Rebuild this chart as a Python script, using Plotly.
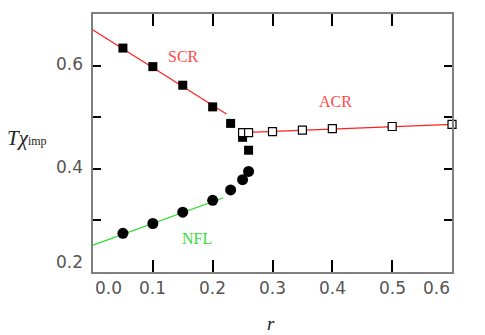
import plotly.graph_objects as go

# --- data ---
scr_r = [0.05, 0.10, 0.15, 0.20, 0.23, 0.25, 0.26]
scr_t = [0.634, 0.598, 0.562, 0.520, 0.488, 0.461, 0.436]

nfl_r = [0.05, 0.10, 0.15, 0.20, 0.23, 0.25, 0.26]
nfl_t = [0.275, 0.294, 0.316, 0.339, 0.359, 0.379, 0.395]

acr_r = [0.25, 0.26, 0.30, 0.35, 0.40, 0.50, 0.60]
acr_t = [0.470, 0.470, 0.472, 0.475, 0.478, 0.482, 0.486]

scr_fit_r = [0.0, 0.223]
scr_fit_t = [0.669, 0.506]
nfl_fit_r = [0.0, 0.218]
nfl_fit_t = [0.252, 0.344]
acr_fit_r = [0.26, 0.60]
acr_fit_t = [0.4705, 0.486]

x_ticks = [0.0, 0.1, 0.2, 0.3, 0.4, 0.5, 0.6]
x_tick_labels = ["0.0", "0.1", "0.2", "0.3", "0.4", "0.5", "0.6"]
y_ticks = [0.2, 0.3, 0.4, 0.5, 0.6]
y_tick_labels = ["0.2", "", "0.4", "", "0.6"]

region_labels = ["SCR", "ACR", "NFL"]
region_label_r = [0.151, 0.405, 0.173]
region_label_t = [0.618, 0.531, 0.265]
region_label_colors = ["#ff4a4a", "#ff4a4a", "#33dd33"]

fig = go.Figure()

fig.add_trace(go.Scatter(x=scr_fit_r, y=scr_fit_t, mode="lines",
                         line=dict(color="#ff2020", width=1.2), showlegend=False))
fig.add_trace(go.Scatter(x=nfl_fit_r, y=nfl_fit_t, mode="lines",
                         line=dict(color="#22dd22", width=1.2), showlegend=False))
fig.add_trace(go.Scatter(x=acr_fit_r, y=acr_fit_t, mode="lines",
                         line=dict(color="#ff2020", width=1.2), showlegend=False))

fig.add_trace(go.Scatter(x=scr_r, y=scr_t, mode="markers",
                         marker=dict(symbol="square", size=9, color="black",
                                     line=dict(width=0)), showlegend=False))
fig.add_trace(go.Scatter(x=nfl_r, y=nfl_t, mode="markers",
                         marker=dict(symbol="circle", size=11, color="black",
                                     line=dict(width=0)), showlegend=False))
fig.add_trace(go.Scatter(x=acr_r, y=acr_t, mode="markers",
                         marker=dict(symbol="square", size=8, color="white",
                                     line=dict(width=1.2, color="black")),
                         showlegend=False, cliponaxis=False))

annotations = []
tick_font = dict(family="DejaVu Sans", size=17, color="#555555")
for i, (v, t) in enumerate(zip(x_ticks, x_tick_labels)):
    anchor = "left" if i == 0 else ("right" if i == len(x_ticks) - 1 else "center")
    annotations.append(dict(x=v, y=0, xref="x", yref="paper", text=t,
                            showarrow=False, xanchor=anchor, yanchor="top",
                            yshift=-4, font=tick_font))
for i, (v, t) in enumerate(zip(y_ticks, y_tick_labels)):
    if not t:
        continue
    annotations.append(dict(x=0, y=v, xref="paper", yref="y", text=t,
                            showarrow=False, xanchor="right",
                            yanchor="bottom" if i == 0 else "middle",
                            xshift=-8, yshift=-2 if i == 0 else 2, font=tick_font))
for t, rr, tt, c in zip(region_labels, region_label_r, region_label_t, region_label_colors):
    annotations.append(dict(x=rr, y=tt, xref="x", yref="y", text=t, showarrow=False,
                            font=dict(family="Liberation Serif", size=16, color=c)))
annotations.append(dict(x=0.495, y=-0.15, xref="paper", yref="paper", text="<i>r</i>",
                        showarrow=False, yanchor="top",
                        font=dict(family="Liberation Serif", size=19, color="#222222")))
annotations.append(dict(x=-0.245, y=0.52, xref="paper", yref="paper",
                        text="<i>T</i><i>χ</i><span style='font-size:12px'>imp</span>",
                        showarrow=False, xanchor="left", yanchor="middle",
                        font=dict(family="Liberation Serif", size=21, color="#222222")))

fig.update_layout(
    width=485, height=335,
    margin=dict(l=93, r=33, t=14, b=63),
    paper_bgcolor="white", plot_bgcolor="white",
    annotations=annotations,
    showlegend=False,
)
fig.update_xaxes(range=[0, 0.6], tickvals=x_ticks, showticklabels=False,
                 ticks="inside", ticklen=12, tickwidth=1.5, tickcolor="black",
                 showline=True, linecolor="#808080", linewidth=2, mirror="allticks",
                 showgrid=False, zeroline=False)
fig.update_yaxes(range=[0.2, 0.7], tickvals=y_ticks, showticklabels=False,
                 ticks="inside", ticklen=8, tickwidth=1.5, tickcolor="black",
                 showline=True, linecolor="#808080", linewidth=2, mirror="allticks",
                 showgrid=False, zeroline=False)

fig.write_html("out.html", config={"displayModeBar": False},
               post_script="document.body.style.margin='0';document.body.style.padding='0';")
